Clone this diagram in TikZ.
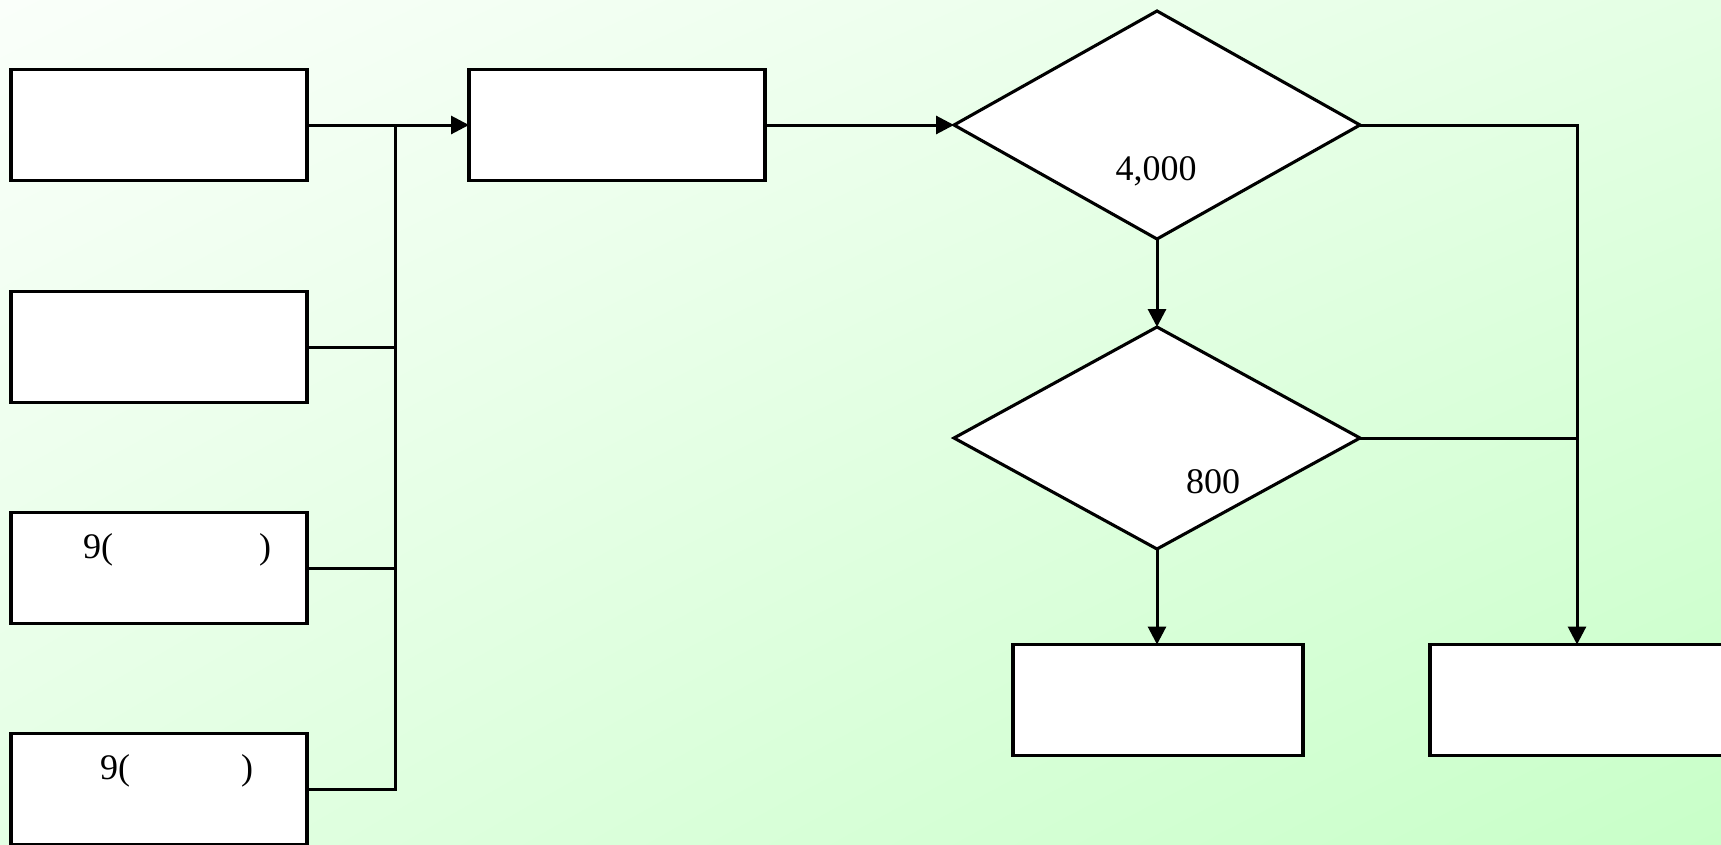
\documentclass[tikz,border=0pt]{standalone}
\usepackage{fontspec}
\setmainfont{Liberation Serif}
\usetikzlibrary{shapes.geometric,arrows.meta,shadings}
\definecolor{bgA}{RGB}{250,255,250}
\definecolor{bgB}{RGB}{228,255,228}
\definecolor{bgC}{RGB}{200,255,200}
\begin{document}
\begin{tikzpicture}[x=1pt,y=-1pt,
 box/.style={draw=black,fill=white,line width=3.3pt,minimum width=296pt,minimum height=111pt,inner sep=0pt,outer sep=0pt},
 dia/.style={diamond,draw=black,fill=white,line width=3.1pt,inner sep=0pt,outer sep=0pt},
 conn/.style={line width=3pt},
 arr/.style={conn,-{Triangle[length=18pt,width=18pt]}},
 lbl/.style={font=\fontsize{36}{40}\selectfont,inner sep=0pt,anchor=base}]
\useasboundingbox (0,0) rectangle (1721,844);
\clip (0,0) rectangle (1721,844);
\shade[upper left=bgA, upper right=bgB, lower left=bgB, lower right=bgC] (0,0) rectangle (1721,844);

\node[box] (L1) at (159,125) {};
\node[box] (L2) at (159,347) {};
\node[box] (L3) at (159,568) {};
\node[box] (L4) at (159,789) {};
\node[box] (B2) at (617,125) {};
\node[dia, minimum width=406pt, minimum height=228pt] (D1) at (1157,125) {};
\node[dia, minimum width=406pt, minimum height=222pt] (D2) at (1157,438) {};
\node[box, minimum width=290pt] (R1) at (1158,700) {};
\node[box, minimum width=294pt] (R2) at (1577,700) {};

\node[lbl] (t1) at (1156,180) {4,000};
\node[lbl] (t2) at (1213,493) {800};
\node[lbl] (t3a) at (98,558) {9(};
\node[lbl] (t3b) at (265,558) {)};
\node[lbl] (t4a) at (115,779) {9(};
\node[lbl] (t4b) at (247,779) {)};

\coordinate (J) at (395,125);
\draw[arr] (L1.east) -- (B2.west);
\draw[conn] (L2.east) -- (L2.east -| J);
\draw[conn] (L3.east) -- (L3.east -| J);
\draw[conn] (L4.east) -- (L4.east -| J) -- (J);
\draw[arr] (B2.east) -- (D1.west);
\draw[arr] (D1.south) -- (D2.north);
\draw[arr] (D2.south) -- (D2.south |- R1.north);
\coordinate (K) at (R2.north |- D1.east);
\draw[arr] (D1.east) -- (K) -- (R2.north);
\draw[conn] (D2.east) -- (D2.east -| K);
\end{tikzpicture}
\end{document}
